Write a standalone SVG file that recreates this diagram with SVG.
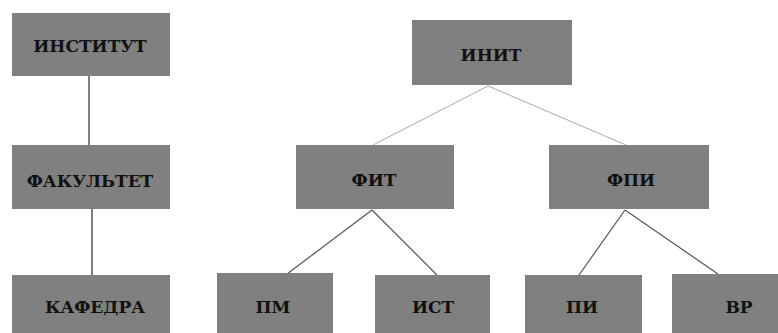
<svg xmlns="http://www.w3.org/2000/svg" width="778" height="333" viewBox="0 0 778 333">
<style>
.box{fill:#808080}
.t{font-family:"DejaVu Serif","Liberation Serif",serif;font-size:17px;font-weight:bold;fill:#111;text-anchor:middle}
.c1{stroke:#555;stroke-width:1.5;fill:none}
.c2{stroke:#aaa;stroke-width:1;fill:none}
.c3{stroke:#555;stroke-width:1.2;fill:none}
</style>
<rect width="778" height="333" fill="#fff"/>
<g id="connectors">
<line class="c1" x1="89" y1="76" x2="89" y2="145"/>
<line class="c1" x1="92" y1="209" x2="92" y2="275"/>
<line class="c2" x1="488" y1="86" x2="373" y2="145"/>
<line class="c2" x1="488" y1="86" x2="626" y2="145"/>
<line class="c3" x1="372" y1="210" x2="287" y2="274"/>
<line class="c3" x1="372" y1="210" x2="437" y2="275"/>
<line class="c3" x1="625" y1="210" x2="579" y2="275"/>
<line class="c3" x1="625" y1="210" x2="718" y2="274"/>
</g>
<g id="institut"><rect class="box" x="12" y="13" width="158" height="63"/><text class="t" x="90" y="52">ИНСТИТУТ</text></g>
<g id="fakultet"><rect class="box" x="12" y="145" width="158" height="64"/><text class="t" x="90" y="187">ФАКУЛЬТЕТ</text></g>
<g id="kafedra"><rect class="box" x="12" y="275" width="158" height="58"/><text class="t" x="95" y="313">КАФЕДРА</text></g>
<g id="init"><rect class="box" x="412" y="20" width="160" height="65"/><text class="t" x="491" y="61">ИНИТ</text></g>
<g id="fit"><rect class="box" x="296" y="145" width="158" height="64"/><text class="t" x="374" y="186">ФИТ</text></g>
<g id="fpi"><rect class="box" x="549" y="145" width="160" height="64"/><text class="t" x="631" y="186">ФПИ</text></g>
<g id="pm"><rect class="box" x="217" y="273" width="116" height="60"/><text class="t" x="273" y="313">ПМ</text></g>
<g id="ist"><rect class="box" x="375" y="275" width="115" height="58"/><text class="t" x="433" y="313">ИСТ</text></g>
<g id="pi"><rect class="box" x="525" y="275" width="117" height="58"/><text class="t" x="582" y="313">ПИ</text></g>
<g id="vr"><rect class="box" x="672" y="274" width="106" height="59"/><text class="t" x="739" y="313">ВР</text></g>
</svg>
